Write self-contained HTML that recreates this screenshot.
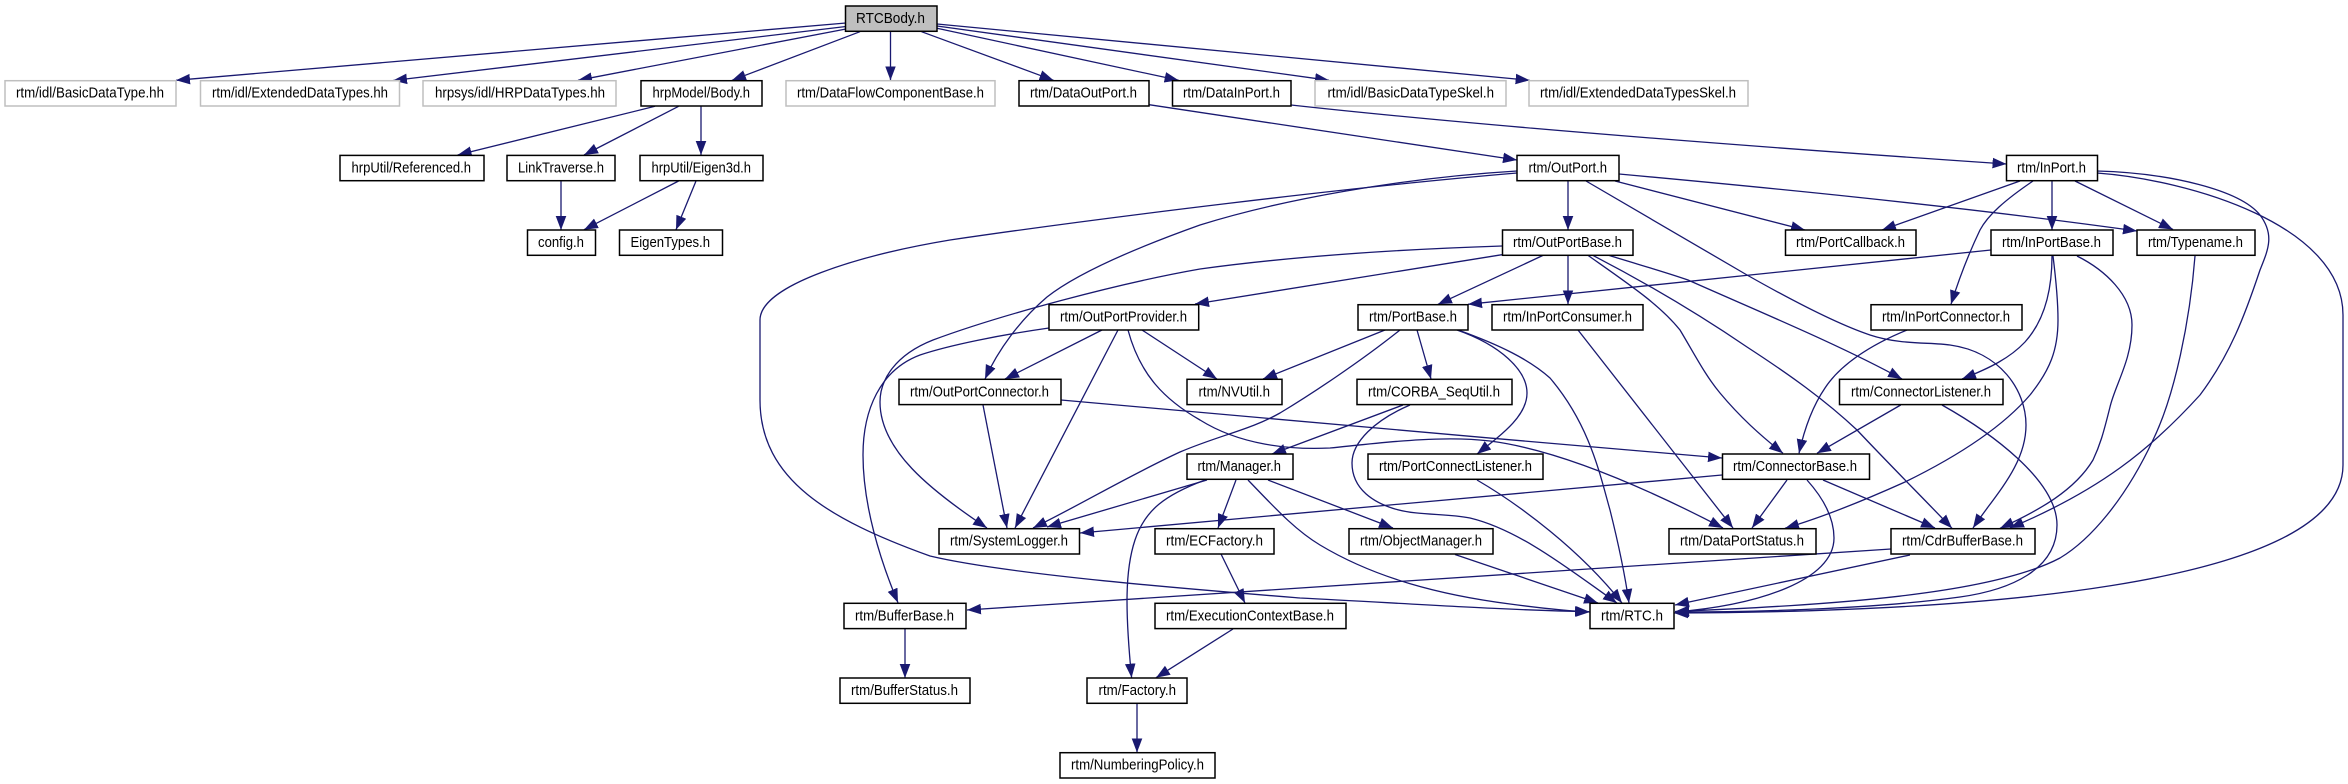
<!DOCTYPE html>
<html><head><meta charset="utf-8"><title>RTCBody.h</title>
<style>
html,body{margin:0;padding:0;background:#fff;width:2348px;height:784px;overflow:hidden}
svg{display:block}
text{font-family:"Liberation Sans",sans-serif;font-size:14.5px;fill:#000;lengthAdjust:spacingAndGlyphs}
.n{fill:#fff;stroke:#000;stroke-width:1.5}
.g{fill:#fff;stroke:#bfbfbf;stroke-width:1.5}
.r{fill:#bfbfbf;stroke:#000;stroke-width:1.5}
path{fill:none;stroke:#191970;stroke-width:1.3;marker-end:url(#a)}
</style></head><body>
<svg xmlns="http://www.w3.org/2000/svg" width="2348" height="784" viewBox="0 0 2348 784">
<defs><marker id="a" markerUnits="userSpaceOnUse" markerWidth="16" markerHeight="14" refX="14" refY="6" orient="auto"><polygon points="0,0.7 14,6 0,11.3" fill="#191970"/></marker></defs>
<rect width="2348" height="784" fill="#fff"/>
<!-- edges -->
<path d="M846,23L176,80.3"/>
<path d="M846,26.5L393,80.5"/>
<path d="M846,29L578,80.3"/>
<path d="M860,31.7L732,80.3"/>
<path d="M890.5,31.7L890.5,80.3"/>
<path d="M921.5,31.7L1053.5,80.3"/>
<path d="M937,28.3L1178.6,80.3"/>
<path d="M937,26L1329,80.3"/>
<path d="M937,24L1529.6,80.3"/>
<path d="M655,106.3L457.6,155"/>
<path d="M678.6,106.3L584,155"/>
<path d="M701,106.3L701,155"/>
<path d="M561,181L561,230"/>
<path d="M678.6,181L584,229.7"/>
<path d="M696,181L676,229.7"/>
<path d="M1149,104.7L1517,160"/>
<path d="M1291,105C1500,128 1800,150 2006.5,164"/>
<path d="M1517,173C1350,187 1100,218 950,240C860,255 760,285 760,320L760,400C760,480 830,520 930,556C1010,575 1200,590 1300,598C1400,603 1500,610 1589,611.7"/>
<path d="M1517,171C1400,178 1280,200 1200,225C1130,250 1075,275 1047,297C1020,320 998,350 985,379"/>
<path d="M1568,181L1568,230"/>
<path d="M1615,181L1805,230"/>
<path d="M1619,174C1750,186 1950,205 2137,231"/>
<path d="M1586,181L1747,275C1800,305 1840,325 1870,335C1900,345 1930,342 1950,345C2000,352 2026,390 2026,425C2026,465 1995,495 1973,528"/>
<path d="M2020,181L1882,230"/>
<path d="M2033,181C2005,200 1988,215 1980,230C1968,255 1958,282 1951,304.3"/>
<path d="M2052,181L2052,230"/>
<path d="M2075,181L2173,229.5"/>
<path d="M2097,171C2170,173 2240,190 2260,215C2275,235 2268,250 2260,270C2245,315 2230,355 2200,395C2150,450 2100,490 2010,528"/>
<path d="M2097,173C2190,180 2343,225 2343,315L2343,465C2343,590 1950,612 1674,613"/>
<path d="M1502,246C1380,250 1280,258 1200,269C1120,283 1000,315 933,340C895,355 880,380 880,402C880,450 930,490 987,528"/>
<path d="M1502,254.7L1195,304"/>
<path d="M1543,255.4L1438,304.3"/>
<path d="M1568,255.4L1568,304.3"/>
<path d="M1588,255.4C1630,285 1660,305 1680,330C1695,355 1705,375 1720,393C1740,417 1760,435 1783,453.3"/>
<path d="M1593,255.4C1650,285 1700,315 1747,347C1790,375 1825,400 1857,430C1890,465 1920,495 1952,528.3"/>
<path d="M1609,255.4C1640,265 1665,272 1688,280C1760,312 1840,345 1902,379"/>
<path d="M1991,250L1468,304.3"/>
<path d="M2052,256C2052,290 2045,320 2025,342C2010,358 1990,368 1962,379"/>
<path d="M2053,256C2056,280 2058,300 2058,320C2058,350 2050,370 2030,395C2000,430 1950,460 1905,482C1865,500 1820,518 1785,528.3"/>
<path d="M2077,256C2105,270 2132,295 2132,325C2132,360 2115,385 2110,407C2103,435 2100,445 2093,460C2075,490 2040,510 2000,528.3"/>
<path d="M2195,256C2190,320 2175,395 2153,440C2125,500 2090,540 2060,558C1990,595 1830,605 1675,611.5"/>
<path d="M1385,330L1263,379"/>
<path d="M1400,330C1360,362 1310,395 1280,413C1250,430 1220,435 1180,452C1130,475 1080,505 1033,528"/>
<path d="M1417,330L1431,379"/>
<path d="M1457,330C1500,345 1527,370 1527,393C1527,415 1505,432 1477,454"/>
<path d="M1458,330C1500,345 1530,360 1550,378C1590,425 1600,475 1610,510C1620,550 1625,575 1629,603"/>
<path d="M1578,330L1733,528"/>
<path d="M1907,330C1870,345 1840,365 1825,388C1810,410 1803,435 1799,453.3"/>
<path d="M1900.7,405L1817,453.3"/>
<path d="M1942,405C1990,432 2057,480 2057,525C2057,570 2010,590 1960,597C1880,608 1770,612 1675,612"/>
<path d="M1722,475L1080,533"/>
<path d="M1787,480L1752,528"/>
<path d="M1823,480L1935,528"/>
<path d="M1807,480C1825,500 1834,520 1834,538C1834,580 1760,605 1675,612"/>
<path d="M1049,328C1000,335 950,345 920,355C880,370 863,410 863,455C863,505 880,560 898,602.7"/>
<path d="M1102,330L1005,379"/>
<path d="M1118,330L1015,528"/>
<path d="M1128,330C1140,375 1165,400 1200,420C1240,445 1290,450 1330,448C1380,443 1440,435 1490,441C1560,450 1650,490 1723,528"/>
<path d="M1142,330L1217,379"/>
<path d="M983,405L1007,528"/>
<path d="M1061,400C1300,420 1500,440 1722,458"/>
<path d="M1403,405L1272,454"/>
<path d="M1410,405C1375,420 1352,442 1352,463C1352,490 1375,503 1395,509C1420,516 1445,513 1470,518C1520,530 1570,570 1617,603"/>
<path d="M1207,480L1047,527"/>
<path d="M1236,480L1218,528"/>
<path d="M1205,480C1165,495 1145,510 1135,540C1125,570 1125,610 1131.6,677.7"/>
<path d="M1268,480L1393,528"/>
<path d="M1248,480C1275,508 1295,530 1320,545C1375,578 1440,595 1510,604C1540,608 1565,611 1590,612"/>
<path d="M1477,480C1520,505 1580,550 1622,603"/>
<path d="M1221,554L1245,603"/>
<path d="M1455,554.5L1598,603"/>
<path d="M1233,629L1156,677.7"/>
<path d="M1137,703.5L1137,752.5"/>
<path d="M905,629L905,678"/>
<path d="M1891,549L967,610"/>
<path d="M1910,555L1675,605"/>
<!-- nodes -->
<rect class="r" x="845.500" y="6" width="91.500" height="25.300"/><text x="856" y="23" textLength="69" lengthAdjust="spacingAndGlyphs">RTCBody.h</text>
<rect class="g" x="5" y="80.700" width="171" height="25.300"/><text x="16" y="97.700" textLength="148" lengthAdjust="spacingAndGlyphs">rtm/idl/BasicDataType.hh</text>
<rect class="g" x="200.500" y="80.700" width="199" height="25.300"/><text x="212" y="97.700" textLength="176" lengthAdjust="spacingAndGlyphs">rtm/idl/ExtendedDataTypes.hh</text>
<rect class="g" x="423" y="80.700" width="193" height="25.300"/><text x="435" y="97.700" textLength="170" lengthAdjust="spacingAndGlyphs">hrpsys/idl/HRPDataTypes.hh</text>
<rect class="n" x="641" y="80.700" width="121" height="25.300"/><text x="652.500" y="97.700" textLength="97.500" lengthAdjust="spacingAndGlyphs">hrpModel/Body.h</text>
<rect class="g" x="786" y="80.700" width="209" height="25.300"/><text x="797" y="97.700" textLength="187" lengthAdjust="spacingAndGlyphs">rtm/DataFlowComponentBase.h</text>
<rect class="n" x="1019" y="80.700" width="130" height="25.300"/><text x="1030" y="97.700" textLength="107" lengthAdjust="spacingAndGlyphs">rtm/DataOutPort.h</text>
<rect class="n" x="1172.500" y="80.700" width="118.500" height="25.300"/><text x="1183" y="97.700" textLength="97" lengthAdjust="spacingAndGlyphs">rtm/DataInPort.h</text>
<rect class="g" x="1315" y="80.700" width="191" height="25.300"/><text x="1327.500" y="97.700" textLength="166.500" lengthAdjust="spacingAndGlyphs">rtm/idl/BasicDataTypeSkel.h</text>
<rect class="g" x="1529" y="80.700" width="219" height="25.300"/><text x="1540" y="97.700" textLength="196" lengthAdjust="spacingAndGlyphs">rtm/idl/ExtendedDataTypesSkel.h</text>
<rect class="n" x="340" y="155.400" width="144" height="25.300"/><text x="351.500" y="172.400" textLength="119.500" lengthAdjust="spacingAndGlyphs">hrpUtil/Referenced.h</text>
<rect class="n" x="507" y="155.400" width="108" height="25.300"/><text x="518" y="172.400" textLength="86" lengthAdjust="spacingAndGlyphs">LinkTraverse.h</text>
<rect class="n" x="640" y="155.400" width="123" height="25.300"/><text x="651.500" y="172.400" textLength="99.500" lengthAdjust="spacingAndGlyphs">hrpUtil/Eigen3d.h</text>
<rect class="n" x="1517" y="155.400" width="102" height="25.300"/><text x="1528.500" y="172.400" textLength="78.500" lengthAdjust="spacingAndGlyphs">rtm/OutPort.h</text>
<rect class="n" x="2006.500" y="155.400" width="91" height="25.300"/><text x="2017" y="172.400" textLength="69" lengthAdjust="spacingAndGlyphs">rtm/InPort.h</text>
<rect class="n" x="527.500" y="230" width="68" height="25.300"/><text x="538" y="247" textLength="46" lengthAdjust="spacingAndGlyphs">config.h</text>
<rect class="n" x="619.500" y="230" width="103" height="25.300"/><text x="630.500" y="247" textLength="79.500" lengthAdjust="spacingAndGlyphs">EigenTypes.h</text>
<rect class="n" x="1502.500" y="230" width="130.500" height="25.300"/><text x="1513" y="247" textLength="109" lengthAdjust="spacingAndGlyphs">rtm/OutPortBase.h</text>
<rect class="n" x="1785.500" y="230" width="130.500" height="25.300"/><text x="1796" y="247" textLength="109" lengthAdjust="spacingAndGlyphs">rtm/PortCallback.h</text>
<rect class="n" x="1991" y="230" width="122" height="25.300"/><text x="2002" y="247" textLength="99" lengthAdjust="spacingAndGlyphs">rtm/InPortBase.h</text>
<rect class="n" x="2137" y="230" width="118" height="25.300"/><text x="2148" y="247" textLength="95" lengthAdjust="spacingAndGlyphs">rtm/Typename.h</text>
<rect class="n" x="1049" y="304.700" width="149.700" height="25.300"/><text x="1060" y="321.700" textLength="127" lengthAdjust="spacingAndGlyphs">rtm/OutPortProvider.h</text>
<rect class="n" x="1358" y="304.700" width="110" height="25.300"/><text x="1369" y="321.700" textLength="88" lengthAdjust="spacingAndGlyphs">rtm/PortBase.h</text>
<rect class="n" x="1492" y="304.700" width="151" height="25.300"/><text x="1503" y="321.700" textLength="129" lengthAdjust="spacingAndGlyphs">rtm/InPortConsumer.h</text>
<rect class="n" x="1871" y="304.700" width="151" height="25.300"/><text x="1882" y="321.700" textLength="128" lengthAdjust="spacingAndGlyphs">rtm/InPortConnector.h</text>
<rect class="n" x="899" y="379.300" width="162" height="25.300"/><text x="910" y="396.300" textLength="139" lengthAdjust="spacingAndGlyphs">rtm/OutPortConnector.h</text>
<rect class="n" x="1187" y="379.300" width="95" height="25.300"/><text x="1198.500" y="396.300" textLength="71.500" lengthAdjust="spacingAndGlyphs">rtm/NVUtil.h</text>
<rect class="n" x="1357" y="379.300" width="155" height="25.300"/><text x="1368" y="396.300" textLength="132" lengthAdjust="spacingAndGlyphs">rtm/CORBA_SeqUtil.h</text>
<rect class="n" x="1839.500" y="379.300" width="163.500" height="25.300"/><text x="1851" y="396.300" textLength="140" lengthAdjust="spacingAndGlyphs">rtm/ConnectorListener.h</text>
<rect class="n" x="1187" y="454" width="106" height="25.300"/><text x="1197.500" y="471" textLength="83.500" lengthAdjust="spacingAndGlyphs">rtm/Manager.h</text>
<rect class="n" x="1368" y="454" width="175" height="25.300"/><text x="1379" y="471" textLength="153" lengthAdjust="spacingAndGlyphs">rtm/PortConnectListener.h</text>
<rect class="n" x="1722.500" y="454" width="147" height="25.300"/><text x="1733" y="471" textLength="124" lengthAdjust="spacingAndGlyphs">rtm/ConnectorBase.h</text>
<rect class="n" x="939" y="528.700" width="140.500" height="25.300"/><text x="950" y="545.700" textLength="118" lengthAdjust="spacingAndGlyphs">rtm/SystemLogger.h</text>
<rect class="n" x="1155" y="528.700" width="119" height="25.300"/><text x="1166" y="545.700" textLength="97" lengthAdjust="spacingAndGlyphs">rtm/ECFactory.h</text>
<rect class="n" x="1349" y="528.700" width="144" height="25.300"/><text x="1360" y="545.700" textLength="122" lengthAdjust="spacingAndGlyphs">rtm/ObjectManager.h</text>
<rect class="n" x="1669" y="528.700" width="147" height="25.300"/><text x="1680" y="545.700" textLength="124" lengthAdjust="spacingAndGlyphs">rtm/DataPortStatus.h</text>
<rect class="n" x="1891" y="528.700" width="144" height="25.300"/><text x="1902" y="545.700" textLength="121" lengthAdjust="spacingAndGlyphs">rtm/CdrBufferBase.h</text>
<rect class="n" x="844" y="603.300" width="122" height="25.300"/><text x="855" y="620.300" textLength="99" lengthAdjust="spacingAndGlyphs">rtm/BufferBase.h</text>
<rect class="n" x="1155" y="603.300" width="191" height="25.300"/><text x="1166" y="620.300" textLength="168" lengthAdjust="spacingAndGlyphs">rtm/ExecutionContextBase.h</text>
<rect class="n" x="1590" y="603.300" width="84" height="25.300"/><text x="1601" y="620.300" textLength="62" lengthAdjust="spacingAndGlyphs">rtm/RTC.h</text>
<rect class="n" x="840" y="678" width="130" height="25.300"/><text x="851" y="695" textLength="107" lengthAdjust="spacingAndGlyphs">rtm/BufferStatus.h</text>
<rect class="n" x="1087" y="678" width="100" height="25.300"/><text x="1098.500" y="695" textLength="77.500" lengthAdjust="spacingAndGlyphs">rtm/Factory.h</text>
<rect class="n" x="1060" y="752.700" width="155" height="25.300"/><text x="1071" y="769.700" textLength="133" lengthAdjust="spacingAndGlyphs">rtm/NumberingPolicy.h</text>
</svg>
</body></html>
